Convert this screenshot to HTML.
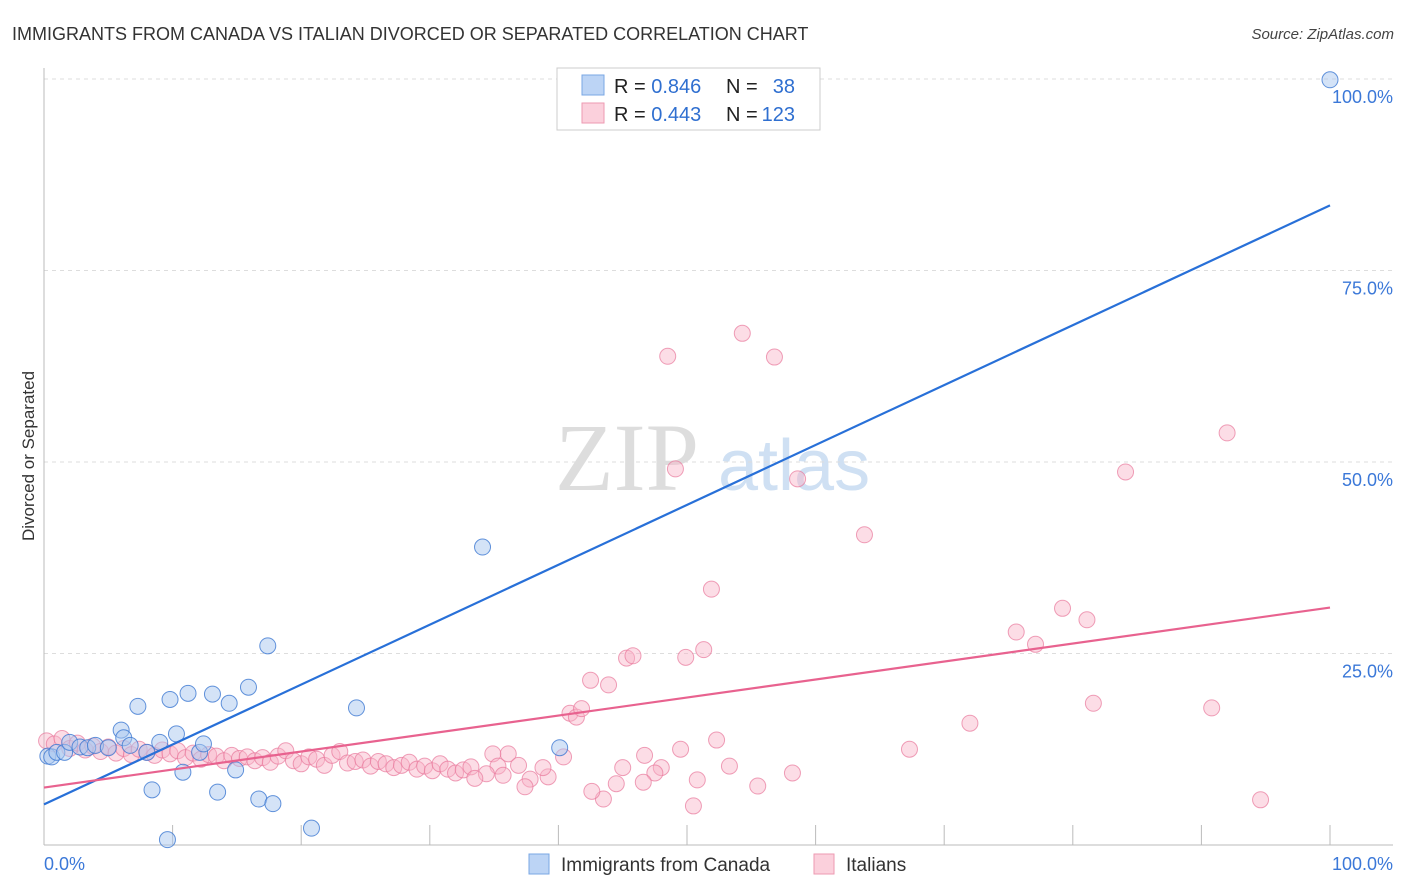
<!DOCTYPE html>
<html><head><meta charset="utf-8"><style>
body{margin:0;background:#fff;font-family:"Liberation Sans",sans-serif;}
svg{display:block}
</style></head><body>
<svg id="c" width="1406" height="892" xmlns="http://www.w3.org/2000/svg">
<text x="12" y="40" font-size="18" fill="#333">IMMIGRANTS FROM CANADA VS ITALIAN DIVORCED OR SEPARATED CORRELATION CHART</text>
<text x="1394" y="39" font-size="15" fill="#444" text-anchor="end" font-style="italic">Source: ZipAtlas.com</text>
<text x="34" y="456" font-size="17" fill="#333" text-anchor="middle" transform="rotate(-90 34 456)">Divorced or Separated</text>
<g>
<text x="555" y="490" font-size="96" fill="#ddd" font-family="Liberation Serif,serif">ZIP</text>
<text x="718" y="490" font-size="72" fill="#cfe0f3">atlas</text>
</g>
<g id="grid"></g>
<g id="axes"></g>
<g id="pts"></g>
<g id="lines"></g>
<g>
<rect x="557" y="68" width="263" height="62" fill="#fff" stroke="#ccc"/>
<rect x="582" y="75" width="22" height="20" fill="#bcd4f5" stroke="#7aa7e4"/>
<rect x="582" y="103" width="22" height="20" fill="#fbd0dc" stroke="#ee9ab2"/>
<text x="614" y="93" font-size="20" fill="#222">R = <tspan fill="#2f6fd0">0.846</tspan></text>
<text x="726" y="93" font-size="20" fill="#222">N =</text>
<text x="795" y="93" font-size="20" fill="#2f6fd0" text-anchor="end">38</text>
<text x="614" y="121" font-size="20" fill="#222">R = <tspan fill="#2f6fd0">0.443</tspan></text>
<text x="726" y="121" font-size="20" fill="#222">N =</text>
<text x="795" y="121" font-size="20" fill="#2f6fd0" text-anchor="end">123</text>
</g>
<g>
<rect x="529" y="854" width="20" height="20" fill="#bcd4f5" stroke="#7aa7e4"/>
<text x="561" y="871" font-size="19" fill="#333">Immigrants from Canada</text>
<rect x="814" y="854" width="20" height="20" fill="#fbd0dc" stroke="#ee9ab2"/>
<text x="846" y="871" font-size="19" fill="#333">Italians</text>
</g>
</svg>
<script>
const yTicks=[25,50,75,100];
const yTickLabels=["25.0%","50.0%","75.0%","100.0%"];
const xTickVals=[10,20,30,40,50,60,70,80,90,100];
const canadaX=[0.3,0.6,1,1.6,2,2.8,3.4,4,5,6,6.2,6.7,7.3,8,8.4,9,9.6,9.8,10.3,10.8,11.2,12.1,12.4,13.1,13.5,14.4,14.9,15.9,16.7,17.4,17.8,20.8,24.3,34.1,40.1,100];
const canadaY=[11.6,11.5,12.1,12.1,13.4,12.8,12.7,13,12.7,15,14,13,18.1,12.1,7.2,13.4,0.7,19,14.5,9.5,19.8,12.1,13.2,19.7,6.9,18.5,9.8,20.6,6,26,5.4,2.2,17.9,38.9,12.7,99.9];
const italX=[0.2,0.8,1.4,2,2.6,3.2,3.8,4.4,5,5.6,6.2,6.8,7.4,8,8.6,9.2,9.8,10.4,11,11.6,12.2,12.8,13.4,14,14.6,15.2,15.8,16.4,17,17.6,18.2,18.8,19.4,20,20.6,21.2,21.8,22.4,23,23.6,24.2,24.8,25.4,26,26.6,27.2,27.8,28.4,29,29.6,30.2,30.8,31.4,32,32.6,33.2,
48.5,54.3,56.8,49.1,58.6,92,84.1,63.8,51.9,79.2,81.1,75.6,77.1,45.3,45.8,49.9,51.3,42.5,43.9,40.9,41.4,41.8,72,81.6,90.8,67.3,52.3,49.5,46.7,53.3,58.2,48,47.5,45,50.8,55.5,46.6,44.5,43.5,42.6,50.5,94.6,40.4,39.2,38.8,37.8,37.4,36.1,34.9,35.3,36.9,35.7,34.4,33.5];
const italY=[13.6,13.2,13.9,12.6,13.3,12.4,12.9,12.2,12.8,12.0,12.6,11.8,12.5,12.1,11.7,12.4,11.9,12.3,11.4,12.0,11.2,11.8,11.6,11.0,11.7,11.3,11.5,11.0,11.4,10.8,11.6,12.3,11.0,10.6,11.5,11.2,10.4,11.7,12.2,10.7,10.9,11.1,10.3,10.9,10.6,10.1,10.4,10.8,9.9,10.3,9.7,10.6,9.9,9.4,9.8,10.2,
63.8,66.8,63.7,49.1,47.8,53.8,48.7,40.5,33.4,30.9,29.4,27.8,26.2,24.4,24.7,24.5,25.5,21.5,20.9,17.2,16.7,17.8,15.9,18.5,17.9,12.5,13.7,12.5,11.7,10.3,9.4,10.1,9.4,10.1,8.5,7.7,8.2,8,6,7,5.1,5.9,11.5,8.9,10.1,8.6,7.6,11.9,11.9,10.3,10.4,9.1,9.3,8.7];
const canadaTrend=[5.3,83.5];
const italTrend=[7.5,31];
const NS="http://www.w3.org/2000/svg";
const X=v=>44+v*12.86, Y=v=>845-v*7.66;
function mk(t,a,p){const e=document.createElementNS(NS,t);for(const k in a)e.setAttribute(k,a[k]);p.appendChild(e);return e;}
const grid=document.getElementById('grid'),axes=document.getElementById('axes'),pts=document.getElementById('pts'),lines=document.getElementById('lines');
yTicks.forEach((v,i)=>{
 const l=mk('line',{x1:44,x2:1393,y1:Y(v),y2:Y(v),stroke:'#ddd','stroke-dasharray':'4,4'},grid);
 
 
 const t=mk('text',{x:1393,y:Y(v)+24,'font-size':18,fill:'#3b78d8','text-anchor':'end'},axes);
 t.textContent=yTickLabels[i];
 
 
});
let a=mk('line',{x1:44,x2:44,y1:68,y2:845,stroke:'#bbb'},axes);


a=mk('line',{x1:44,x2:1393,y1:845,y2:845,stroke:'#bbb'},axes);


xTickVals.forEach(v=>{
 const t=mk('line',{x1:X(v),x2:X(v),y1:825,y2:845,stroke:'#bbb'},axes);
 
 
});
let t=mk('text',{x:44,y:870,'font-size':18,fill:'#3b78d8'},axes);t.textContent='0.0%';


t=mk('text',{x:1393,y:870,'font-size':18,fill:'#3b78d8','text-anchor':'end'},axes);t.textContent='100.0%';


italX.forEach((x,i)=>{
 const c=mk('circle',{cx:X(x),cy:Y(italY[i]),r:8,fill:'rgba(248,180,200,0.45)',stroke:'rgba(232,120,155,0.7)','stroke-width':1},pts);
 
 
});
canadaX.forEach((x,i)=>{
 const c=mk('circle',{cx:X(x),cy:Y(canadaY[i]),r:8,fill:'rgba(170,200,240,0.5)',stroke:'rgba(60,120,210,0.8)','stroke-width':1},pts);
 
 
});
let l=mk('line',{x1:X(0),y1:Y(canadaTrend[0]),x2:X(100),y2:Y(canadaTrend[1]),stroke:'#2870d8','stroke-width':2.2},lines);


l=mk('line',{x1:X(0),y1:Y(italTrend[0]),x2:X(100),y2:Y(italTrend[1]),stroke:'#e8628f','stroke-width':2.2},lines);


</script>
</body></html>
